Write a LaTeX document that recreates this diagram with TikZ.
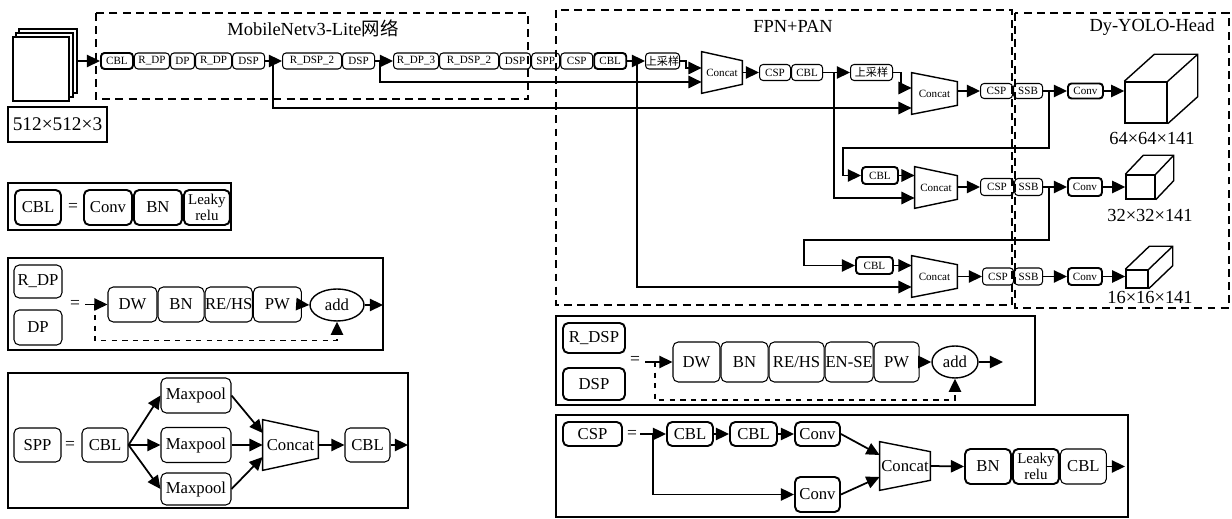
\documentclass[tikz,border=0pt]{standalone}
\usepackage{fontspec}
\setmainfont{Liberation Serif}
\newfontfamily\cjk{Noto Sans CJK SC}
\usepackage{tikz}
\usetikzlibrary{arrows.meta,positioning,calc,shapes.geometric}

\tikzset{
  sz/.style 2 args={minimum width=#1*0.02cm, minimum height=#2*0.02cm},
  blk/.style={draw, rounded corners=2pt, inner sep=0pt, line width=0.6pt, font=\fontsize{6.3}{6.3}\selectfont},
  blkb/.style={blk, line width=1.1pt},
  lbox/.style={draw, rounded corners=3pt, inner sep=0pt, line width=0.6pt, font=\fontsize{9.5}{10}\selectfont},
  lboxb/.style={lbox, line width=1.1pt},
  cat/.style={inner sep=0pt, font=\fontsize{6.3}{6.3}\selectfont},
  lcatn/.style={inner sep=0pt, font=\fontsize{9.5}{10}\selectfont},
  addn/.style={draw, ellipse, inner sep=0pt, line width=0.8pt, font=\fontsize{9.5}{10}\selectfont},
  arr/.style={-{Triangle[length=7.5pt,width=7pt]}, line width=1pt},
  frame/.style={draw, line width=1pt, dash pattern=on 4.5pt off 3pt},
  ttl/.style={font=\fontsize{10.5}{11}\selectfont},
  face/.style={draw, fill=white, inner sep=0pt, line width=0.8pt},
}

% trapezoid drawn round a Concat node
\newcommand{\catdraw}[2]{\draw[line width=0.8pt] (#1.north west) -- ($(#1.north east)+(0,#2)$) -- ($(#1.south east)+(0,-#2)$) -- (#1.south west) -- cycle;}
% top and side faces of a feature map cube
\newcommand{\cubedraw}[3]{\draw[line width=0.8pt] (#1.north west) -- ++(#2,#3) -- ($(#1.north east)+(#2,#3)$) -- ($(#1.south east)+(#2,#3)$) -- (#1.south east) (#1.north east) -- ++(#2,#3);}

\begin{document}
\begin{tikzpicture}[x=0.02cm, y=-0.02cm]
    \useasboundingbox (0,0) rectangle (1232,519);

    % Input
    \node (pg3) [face, sz={58}{64}] at (48,61) {};
    \node (pg2) [face, sz={57}{64}] at (44.5,65) {};
    \node (pg1) [face, sz={56}{64}] at (41,69) {};
    \node (insize) [draw, line width=1pt, sz={99}{35}, inner sep=0pt, font=\fontsize{11}{11}\selectfont] at (57.5,124.5) {512×512×3};

    % Frames
    \draw[frame] (96,13) rectangle (528,99);
    \draw[frame] (556,10) rectangle (1012,305);
    \draw[frame] (1015,13) rectangle (1229,308);
    \node (tmob) [ttl] at (313,28) {MobileNetv3-Lite{\cjk 网络}};
    \node (tfpn) [ttl] at (793,26) {FPN+PAN};
    \node (thead) [ttl] at (1152,27) {Dy-YOLO-Head};

    % Backbone
    \node (cbla) [blkb, sz={32}{16}, anchor=west] at (100,61) {CBL};
    \node (rdpa) [blk, sz={35}{16}, right=0pt of cbla] {R\_DP};
    \node (dpa) [blk, sz={24}{16}, right=0pt of rdpa] {DP};
    \node (rdpb) [blk, sz={36}{16}, right=0pt of dpa] {R\_DP};
    \node (dspa) [blk, sz={32}{16}, right=0pt of rdpb] {DSP};
    \node (rdsp2a) [blk, sz={59}{16}, anchor=west] at (282,61) {R\_DSP\_2};
    \node (dspb) [blk, sz={32}{16}, right=0pt of rdsp2a] {DSP};
    \node (rdp3) [blk, sz={45}{16}, anchor=west] at (393,61) {R\_DP\_3};
    \node (rdsp2b) [blk, sz={59}{16}, right=0pt of rdp3] {R\_DSP\_2};
    \node (dspc) [blk, sz={31}{16}, right=0pt of rdsp2b] {DSP};
    \node (spp) [blk, sz={28}{16}, right=0pt of dspc] {SPP};
    \node (cspa) [blk, sz={32}{16}, right=0pt of spp] {CSP};
    \node (cblb) [blkb, sz={32}{16}, right=0pt of cspa] {CBL};

    % Neck
    \node (up1) [blk, sz={34}{16}, anchor=west] at (645,61) {\cjk 上采样};
    \node (cc1) [cat, sz={40}{41}] at (722,72.5) {Concat};
    \catdraw{cc1}{9}
    \node (cspb) [blk, sz={31}{16}, anchor=west] at (759,72.5) {CSP};
    \node (cblc) [blk, sz={31}{16}, right=0pt of cspb] {CBL};
    \node (up2) [blk, sz={42}{16}, anchor=west] at (850,72.5) {\cjk 上采样};
    \node (cc2) [cat, sz={45}{41}] at (934.5,93.5) {Concat};
    \catdraw{cc2}{9}
    \node (cspc) [blk, sz={32}{15}, anchor=west] at (980,91) {CSP};
    \node (ssba) [blk, sz={29}{15}, right=0pt of cspc] {SSB};

    \node (cblm) [blkb, sz={36}{17}, anchor=west] at (861,175.5) {CBL};
    \node (ccm) [cat, sz={42}{41}] at (936,187.5) {Concat};
    \catdraw{ccm}{9}
    \node (cspm) [blk, sz={33}{17}, anchor=west] at (980,187) {CSP};
    \node (ssbm) [blk, sz={28}{17}, right=0pt of cspm] {SSB};

    \node (cblbt) [blkb, sz={37}{17}, anchor=west] at (855,265.5) {CBL};
    \node (ccb) [cat, sz={45}{41}] at (934.5,276.5) {Concat};
    \catdraw{ccb}{9}
    \node (cspbt) [blk, sz={31}{17}, anchor=west] at (982,276.5) {CSP};
    \node (ssbb) [blk, sz={28}{17}, right=0pt of cspbt] {SSB};

    % Head
    \node (conva) [blkb, sz={35}{15}, anchor=west] at (1067,91) {Conv};
    \node (convm) [blkb, sz={34}{18}, anchor=west] at (1067,187) {Conv};
    \node (convb) [blkb, sz={34}{17}, anchor=west] at (1067,276.5) {Conv};
    \node (cubea) [face, sz={42}{41}] at (1146,102.5) {};
    \cubedraw{cubea}{30}{-27}
    \node (cubeb) [face, sz={29}{24}] at (1140.5,187) {};
    \cubedraw{cubeb}{18}{-19}
    \node (cubec) [face, sz={22}{18}] at (1137,279) {};
    \cubedraw{cubec}{24}{-23}
    \node (lbla) [ttl] at (1152,138) {64×64×141};
    \node (lblb) [ttl] at (1150,215) {32×32×141};
    \node (lblc) [ttl] at (1150,297) {16×16×141};

    % Arrows
    \coordinate (lva) at (0,108);
    \coordinate (lvb) at (0,82);
    \coordinate (lvc) at (0,287);
    \coordinate (lvd) at (0,68);
    \coordinate (lve) at (0,198);
    \coordinate (lvf) at (0,88);
    \coordinate (lvg) at (843,148);
    \coordinate (lvh) at (804,240);
    \coordinate (ba) at ($(dspa.east)+(8,0)$);
    \coordinate (bb) at ($(dspb.east)+(5,0)$);
    \coordinate (bc) at ($(cblb.east)+(10,0)$);
    \coordinate (bd) at ($(cblc.east)+(11,0)$);
    \coordinate (be) at ($(ssba.east)+(6,0)$);
    \coordinate (bf) at ($(ssbm.east)+(6,0)$);
    \draw[arr] (pg3.east) -- (cbla.west);
    \draw[arr] (dspa.east) -- (rdsp2a.west);
    \draw[arr] (ba) |- (cc2.west |- lva);
    \draw[arr] (dspb.east) -- (rdp3.west);
    \draw[arr] (bb) |- (cc1.west |- lvb);
    \draw[arr] (cblb.east) -- (up1.west);
    \draw[arr] (bc) |- (ccb.west |- lvc);
    \draw[arr] (up1.east) -- ++(6,0) |- (cc1.west |- lvd);
    \draw[arr] (cc1.east |- cspb) -- (cspb.west);
    \draw[arr] (cblc.east) -- (up2.west);
    \draw[arr] (bd) |- (ccm.west |- lve);
    \draw[arr] (up2.east) -- ++(8,0) |- (cc2.west |- lvf);
    \draw[arr] (cc2.east |- cspc) -- (cspc.west);
    \draw[arr] (ssba.east) -- (conva.west);
    \draw[arr] (be) |- (lvg) |- (cblm.west);
    \draw[arr] (conva.east) -- (cubea.west |- conva);
    \draw[arr] (cblm.east) -- (ccm.west |- cblm);
    \draw[arr] (ccm.east |- cspm) -- (cspm.west);
    \draw[arr] (ssbm.east) -- (convm.west);
    \draw[arr] (bf) |- (lvh) |- (cblbt.west);
    \draw[arr] (convm.east) -- (cubeb.west |- convm);
    \draw[arr] (cblbt.east) -- (ccb.west |- cblbt);
    \draw[arr] (ccb.east |- cspbt) -- (cspbt.west);
    \draw[arr] (ssbb.east) -- (convb.west);
    \draw[arr] (convb.east) -- (cubec.west |- convb);

    % Legend: CBL
    \draw[line width=1.2pt] (8,183) rectangle (231,230);
    \node (lcbl) [lboxb, sz={46}{35}] at (38,207.5) {CBL};
    \node (leq1) at (73,207) {=};
    \node (lconv) [lboxb, sz={48}{35}] at (108,207.5) {Conv};
    \node (lbn) [lboxb, sz={48}{35}, right=0pt of lconv] {BN};
    \node (lleaky) [lboxb, sz={46}{35}, right=0pt of lbn, align=center, font=\fontsize{8.5}{7.5}\selectfont] {Leaky\\relu};

    % Legend: R_DP
    \draw[line width=0.9pt] (8,258) rectangle (383,350);
    \node (lrdp) [lbox, sz={48}{33}] at (38,281.5) {R\_DP};
    \node (ldp) [lbox, sz={48}{35}] at (38,327.5) {DP};
    \node (leq2) at (75,304) {=};
    \node (ldw) [lbox, sz={49}{35}] at (132.5,304.5) {DW};
    \node (lbn2) [lbox, sz={46}{35}, right=0pt of ldw] {BN};
    \node (lrehs) [lbox, sz={47}{35}, right=0pt of lbn2] {RE/HS};
    \node (lpw) [lbox, sz={48}{35}, right=0pt of lrehs] {PW};
    \node (ladd) [addn, sz={54}{32}] at (337,305) {add};
    \coordinate (rin) at (85,304.5);
    \coordinate (rbr) at (95,304.5);
    \coordinate (rout) at (383,305);
    \draw[arr] (rin) -- (ldw.west);
    \draw[arr, dashed] (rbr) -- ++(0,36) -| (ladd.south);
    \draw[arr] (lpw.east) -- (ladd.west);
    \draw[arr] (ladd.east) -- (rout);

    % Legend: SPP
    \draw[line width=0.9pt] (8,373) rectangle (408,508);
    \node (lspp) [lbox, sz={47}{34}] at (37.5,445) {SPP};
    \node (leq3) at (70,445) {=};
    \node (lcbl2) [lbox, sz={46}{34}] at (105,445) {CBL};
    \node (mp1) [lbox, sz={70}{35}] at (196,395.5) {Maxpool};
    \node (mp2) [lbox, sz={70}{35}] at (196,445) {Maxpool};
    \node (mp3) [lbox, sz={70}{32}] at (196,489) {Maxpool};
    \node (lcat) [lcatn, sz={55}{50}] at (290.5,445) {Concat};
    \catdraw{lcat}{12}
    \node (lcbl3) [lbox, sz={45}{34}] at (367.5,445) {CBL};
    \coordinate (sout) at (408,445);
    \draw[arr] (lcbl2.east) -- (mp1.west);
    \draw[arr] (lcbl2.east) -- (mp2.west);
    \draw[arr] (lcbl2.east) -- (mp3.west);
    \draw[arr] (mp1.east) -- ($(lcat.west)+(0,-12)$);
    \draw[arr] (mp2.east) -- (lcat.west);
    \draw[arr] (mp3.east) -- ($(lcat.west)+(0,12)$);
    \draw[arr] (lcat.east) -- (lcbl3.west);
    \draw[arr] (lcbl3.east) -- (sout);

    % Legend: R_DSP
    \draw[line width=0.9pt] (556,316) rectangle (1035,405);
    \node (lrdsp) [lboxb, sz={62}{30}] at (594,338) {R\_DSP};
    \node (ldsp) [lboxb, sz={62}{32}] at (594,384) {DSP};
    \node (leq4) at (635,360) {=};
    \node (ddw) [lbox, sz={47}{40}] at (696.5,362) {DW};
    \node (dbn) [lbox, sz={47}{40}, right=0pt of ddw] {BN};
    \node (drehs) [lbox, sz={55}{40}, right=0pt of dbn] {RE/HS};
    \node (dense) [lbox, sz={48}{40}, right=0pt of drehs] {EN-SE};
    \node (dpw) [lbox, sz={45}{40}, right=0pt of dense] {PW};
    \node (dadd) [addn, sz={46}{32}] at (955,362) {add};
    \coordinate (din) at (645,362);
    \coordinate (dbr) at (655,362);
    \coordinate (dout) at (1003,362);
    \draw[arr] (din) -- (ddw.west);
    \draw[arr, dashed] (dbr) -- ++(0,38) -| (dadd.south);
    \draw[arr] (dpw.east) -- (dadd.west);
    \draw[arr] (dadd.east) -- (dout);

    % Legend: CSP
    \draw[line width=0.9pt] (556,415) rectangle (1128,517);
    \node (lcsp) [lboxb, sz={59}{24}] at (592.5,434) {CSP};
    \node (leq5) at (632,434) {=};
    \node (ccbl1) [lboxb, sz={46}{24}] at (690,434) {CBL};
    \node (ccbl2) [lboxb, sz={47}{24}] at (753.5,434) {CBL};
    \node (cconv1) [lboxb, sz={45}{24}] at (817.5,434) {Conv};
    \node (cconv2) [lboxb, sz={45}{35}] at (817.5,494.5) {Conv};
    \node (ccat) [lcatn, sz={50}{48}] at (905,466) {Concat};
    \catdraw{ccat}{10}
    \node (cbn) [lboxb, sz={46}{35}] at (988,466.5) {BN};
    \node (cleaky) [lboxb, sz={46}{35}, right=0pt of cbn, align=center, font=\fontsize{8.5}{7.5}\selectfont] {Leaky\\relu};
    \node (ccbl3) [lbox, sz={46}{35}, right=0pt of cleaky] {CBL};
    \coordinate (cin) at (640,434);
    \coordinate (cbr) at (653,434);
    \coordinate (cout) at (1125,466.5);
    \draw[arr] (cin) -- (ccbl1.west);
    \draw[arr] (cbr) |- (cconv2.west);
    \draw[arr] (ccbl1.east) -- (ccbl2.west);
    \draw[arr] (ccbl2.east) -- (cconv1.west);
    \draw[arr] (cconv1.east) -- ($(ccat.west)+(0,-11)$);
    \draw[arr] (cconv2.east) -- ($(ccat.west)+(0,11)$);
    \draw[arr] (ccat.east) -- (cbn.west);
    \draw[arr] (ccbl3.east) -- (cout);
\end{tikzpicture}
\end{document}
